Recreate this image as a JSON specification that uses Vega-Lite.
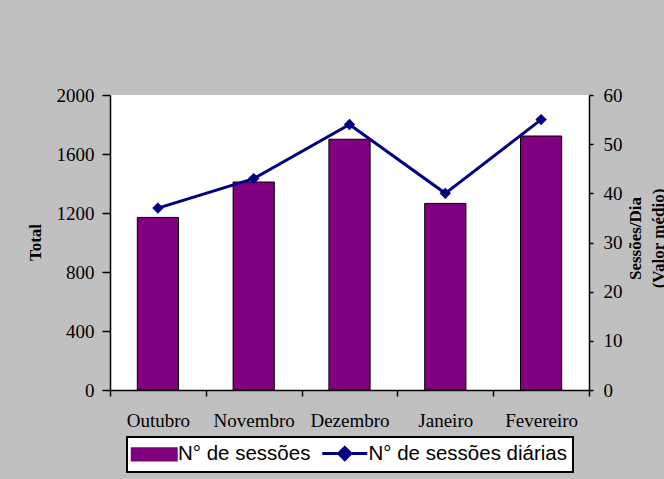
{
  "$schema": "https://vega.github.io/schema/vega-lite/v6.json",
  "width": 479,
  "height": 295,
  "autosize": {"type": "none"},
  "padding": {"left": 110, "top": 95, "right": 75, "bottom": 89},
  "background": "#c0c0c0",
  "config": {
    "view": {"stroke": null, "fill": "white"},
    "axis": {
      "labelFont": "Liberation Serif",
      "labelFontSize": 19,
      "labelColor": "black",
      "titleFont": "Liberation Serif",
      "titleFontSize": 17,
      "titleFontWeight": "bold",
      "titleColor": "black",
      "domainColor": "black",
      "domainWidth": 1.5,
      "tickColor": "black",
      "tickWidth": 1.5,
      "grid": false
    }
  },
  "data": {
    "values": [
      {"mes": "Outubro", "total": 1170, "diarias": 37},
      {"mes": "Novembro", "total": 1410, "diarias": 43},
      {"mes": "Dezembro", "total": 1700, "diarias": 54},
      {"mes": "Janeiro", "total": 1265, "diarias": 40},
      {"mes": "Fevereiro", "total": 1722, "diarias": 55}
    ]
  },
  "encoding": {
    "x": {
      "field": "mes",
      "type": "nominal",
      "sort": null,
      "scale": {"paddingInner": 0, "paddingOuter": 0},
      "axis": {
        "title": null,
        "labelAngle": 0,
        "tickBand": "extent",
        "tickSize": 6,
        "labelPadding": 15,
        "labelBaseline": "top"
      }
    }
  },
  "layer": [
    {
      "mark": {"type": "bar", "width": {"band": 0.43}, "stroke": "black", "strokeWidth": 1},
      "encoding": {
        "y": {
          "field": "total",
          "type": "quantitative",
          "scale": {"domain": [0, 2000]},
          "axis": {
            "title": "Total",
            "format": "d",
            "values": [0, 400, 800, 1200, 1600, 2000],
            "tickSize": 8,
            "labelPadding": 8,
            "titleX": -75,
            "titleY": 147,
            "titleAngle": -90,
            "titleBaseline": "middle",
            "titleAlign": "center"
          }
        },
        "color": {
          "datum": "N° de sessões",
          "type": "nominal",
          "scale": {
            "domain": ["N° de sessões", "N° de sessões diárias"],
            "range": ["#800080", "#000080"]
          },
          "legend": {
            "title": null,
            "orient": "none",
            "legendX": 17,
            "legendY": 342,
            "direction": "horizontal",
            "fillColor": "white",
            "strokeColor": "black",
            "padding": 6,
            "labelFont": "Liberation Sans",
            "labelFontSize": 20.5,
            "labelColor": "black",
            "labelLimit": 300,
            "labelOffset": 13.5,
            "symbolOffset": 11,
            "columnPadding": 4.5,
            "symbolSize": 2025,
            "encoding": {
              "legend": {
                "strokeWidth": {"value": 2}
              },
              "symbols": {
                "shape": {"value": {"expr": "datum.value === 'N° de sessões' ? 'M-1,-0.27H1V0.27H-1Z' : 'M-1,0H1M0,-0.27L0.27,0L0,0.27L-0.27,0Z'"}},
                "fill": {"value": {"expr": "datum.value === 'N° de sessões' ? '#800080' : '#000080'"}},
                "stroke": {"value": {"expr": "datum.value === 'N° de sessões' ? 'black' : '#000080'"}},
                "strokeWidth": {"value": {"expr": "datum.value === 'N° de sessões' ? 2 : 3"}},
                "opacity": {"value": 1},
                "fillOpacity": {"value": 1}
              }
            }
          }
        }
      }
    },
    {
      "mark": {
        "type": "line",
        "strokeWidth": 3,
        "point": {"shape": "diamond", "filled": true, "size": 130}
      },
      "encoding": {
        "y": {
          "field": "diarias",
          "type": "quantitative",
          "scale": {"domain": [0, 60]},
          "axis": {
            "orient": "right",
            "title": ["Sessões/Dia", "(Valor médio)"],
            "values": [0, 10, 20, 30, 40, 50, 60],
            "tickSize": 4,
            "labelPadding": 10,
            "titleX": 38,
            "titleY": 143,
            "titleAngle": -90,
            "titleBaseline": "top",
            "titleAlign": "center",
            "titleLineHeight": 23
          }
        },
        "color": {"datum": "N° de sessões diárias", "type": "nominal"}
      }
    }
  ],
  "resolve": {"scale": {"y": "independent"}}
}
